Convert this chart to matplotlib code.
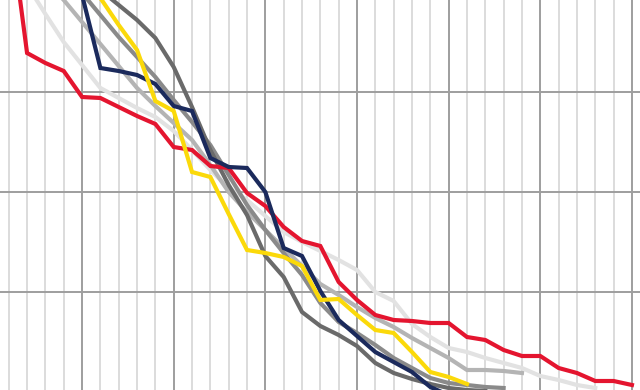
import matplotlib
matplotlib.use("Agg")
import matplotlib.pyplot as plt
from matplotlib.ticker import MultipleLocator

# x positions are integer steps; y values
red_x = list(range(1, 36))
red_y = [4.79, 3.39, 3.29, 3.21, 2.95, 2.94, 2.85, 2.76, 2.68, 2.45, 2.42, 2.26, 2.24,
         1.99, 1.86, 1.65, 1.51, 1.46, 1.10, 0.92, 0.77, 0.72, 0.71, 0.69, 0.69, 0.55,
         0.52, 0.42, 0.36, 0.36, 0.24, 0.19, 0.11, 0.11, 0.07]

vlight_x = list(range(1, 34))
vlight_y = [4.42, 4.07, 3.78, 3.50, 3.27, 3.04, 2.94, 2.84, 2.75, 2.61, 2.42, 2.22, 2.04,
            1.92, 1.76, 1.60, 1.50, 1.41, 1.32, 1.22, 1.00, 0.91, 0.68, 0.55, 0.44, 0.40,
            0.34, 0.29, 0.24, 0.16, 0.12, 0.07, 0.04]

light_x = list(range(3, 30))
light_y = [4.12, 3.92, 3.70, 3.48, 3.26, 3.04, 2.86, 2.69, 2.52, 2.27, 2.00, 1.80, 1.62,
           1.44, 1.26, 1.08, 0.97, 0.85, 0.74, 0.65, 0.54, 0.44, 0.34, 0.22, 0.22, 0.21, 0.19]

navy_x = list(range(4, 26))
navy_y = [4.72, 3.97, 3.24, 3.21, 3.17, 3.08, 2.86, 2.81, 2.34, 2.25, 2.24, 2.00, 1.44,
          1.36, 1.01, 0.72, 0.56, 0.40, 0.30, 0.20, 0.05, -0.03]

yellow_x = list(range(5, 27))
yellow_y = [4.20, 3.94, 3.67, 3.42, 2.91, 2.81, 2.20, 2.15, 1.78, 1.42, 1.39, 1.35, 1.26,
            0.92, 0.93, 0.77, 0.62, 0.59, 0.40, 0.20, 0.15, 0.08]

dark_x = list(range(5, 29))
dark_y = [4.20, 4.02, 3.87, 3.72, 3.54, 3.25, 2.85, 2.42, 2.07, 1.77, 1.36, 1.15, 0.80,
          0.66, 0.57, 0.46, 0.29, 0.19, 0.13, 0.08, 0.04, 0.02, 0.01, 0.00]

mid_x = list(range(5, 29))
mid_y = [3.99, 3.77, 3.55, 3.35, 3.15, 2.92, 2.70, 2.47, 2.17, 1.87, 1.62, 1.39, 1.17,
         0.89, 0.70, 0.59, 0.47, 0.34, 0.24, 0.14, 0.09, 0.07, 0.05, 0.04]

series = [
    (vlight_x, vlight_y, "#e2e2e2"),
    (light_x, light_y, "#b4b4b4"),
    (mid_x, mid_y, "#8a8a8a"),
    (dark_x, dark_y, "#6a6a6a"),
    (red_x, red_y, "#e4152f"),
    (navy_x, navy_y, "#1b2a5c"),
    (yellow_x, yellow_y, "#fbd90a"),
]

fig = plt.figure(figsize=(6.4, 3.9), dpi=100)
ax = fig.add_axes([0, 0, 1, 1])
ax.set_xlim(0.524, 35.44)
ax.set_ylim(0.02, 3.92)

ax.xaxis.set_major_locator(MultipleLocator(5))
ax.xaxis.set_minor_locator(MultipleLocator(1))
ax.yaxis.set_major_locator(MultipleLocator(1))
ax.grid(which="minor", axis="x", color="#dcdcdc", linewidth=1.4, zorder=0)
ax.grid(which="major", axis="x", color="#9e9e9e", linewidth=1.4, zorder=0)
ax.grid(which="major", axis="y", color="#9e9e9e", linewidth=1.4, zorder=0)
ax.set_axisbelow(True)

for xs, ys, c in series:
    ax.plot(xs, ys, color=c, linewidth=3.0, solid_joinstyle="miter", zorder=3)

for s in ax.spines.values():
    s.set_visible(False)
ax.tick_params(which="both", length=0, labelbottom=False, labelleft=False)

fig.savefig("out.png", dpi=100)
